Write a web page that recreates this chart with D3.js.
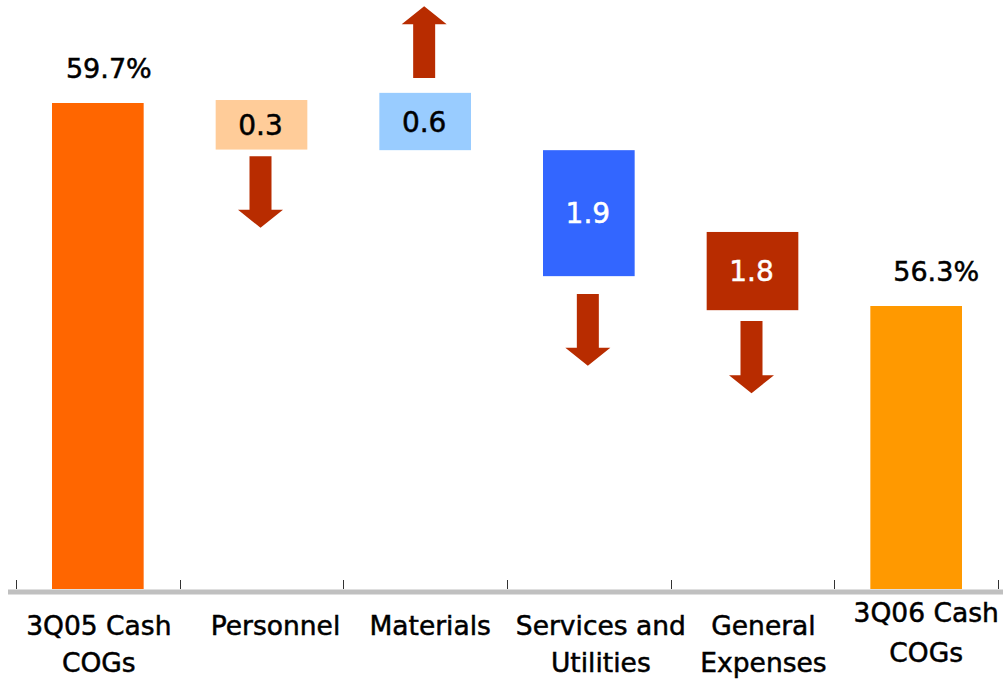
<!DOCTYPE html>
<html>
<head>
<meta charset="utf-8">
<script src="https://cdn.jsdelivr.net/npm/d3@7"></script>
<style>
  body { margin: 0; background: #fff; }
  text { font-family: "DejaVu Sans", Verdana, sans-serif; }
</style>
</head>
<body>
<div id="chart"></div>
<script>
// categories (label lines)
var categories = ["3Q05 Cash COGs", "Personnel", "Materials", "Services and Utilities", "General Expenses", "3Q06 Cash COGs"];
var labelLines = [["3Q05 Cash", "COGs"], ["Personnel"], ["Materials"], ["Services and", "Utilities"], ["General", "Expenses"], ["3Q06 Cash", "COGs"]];

// totals (start / end)
var totals = [59.7, 56.3];
var totalLabels = ["59.7%", "56.3%"];

// changes
var changes = [0.3, 0.6, 1.9, 1.8];
// schematic box extents, in % units
var boxTop = [59.75, 59.87, 58.91, 57.54];
var boxBottom = [58.92, 58.91, 56.80, 56.23];
// arrow tail / tip, in % units
var arrowFrom = [58.81, 60.12, 56.50, 56.05];
var arrowTo = [57.61, 61.32, 55.30, 54.84];

var changeColors = ["#FFCC99", "#99CCFF", "#3366FF", "#B82C00"];
var changeText = ["#000", "#000", "#fff", "#fff"];
var totalColors = ["#FF6600", "#FF9900"];
var arrowColor = "#B82C00";

var W = 1003, H = 680;
var baseY = 589;

var svg = d3.select("#chart").append("svg")
    .attr("width", W)
    .attr("height", H);

var x = d3.scaleBand()
    .domain(categories)
    .range([16, 998])
    .paddingInner(0.44)
    .paddingOuter(0.22);

var y = d3.scaleLinear()
    .domain([56.3, 59.7])
    .range([306, 103]);

var step = x.step();
var bw = x.bandwidth();

// totals bars
var totalCats = [categories[0], categories[5]];
svg.selectAll(".total")
    .data(totals)
    .enter().append("rect")
    .attr("class", "total")
    .attr("x", function(d, i){ return x(totalCats[i]); })
    .attr("y", function(d){ return y(d); })
    .attr("width", bw)
    .attr("height", function(d){ return baseY - y(d); })
    .style("fill", function(d, i){ return totalColors[i]; });

var totalOffset = [11, 20];
svg.selectAll(".total-label")
    .data(totals)
    .enter().append("text")
    .attr("class", "total-label")
    .attr("x", function(d, i){ return x(totalCats[i]) + bw / 2 + totalOffset[i]; })
    .attr("y", function(d){ return y(d) - 25; })
    .attr("text-anchor", "middle")
    .style("font-size", "27px")
    .style("fill", "#000")
    .style("stroke", "#000")
    .style("stroke-width", 0.5)
    .text(function(d, i){ return totalLabels[i]; });

// change boxes
var changeCats = categories.slice(1, 5);
svg.selectAll(".box")
    .data(changes)
    .enter().append("rect")
    .attr("class", "box")
    .attr("x", function(d, i){ return x(changeCats[i]); })
    .attr("y", function(d, i){ return y(boxTop[i]); })
    .attr("width", bw)
    .attr("height", function(d, i){ return y(boxBottom[i]) - y(boxTop[i]); })
    .style("fill", function(d, i){ return changeColors[i]; });

svg.selectAll(".box-label")
    .data(changes)
    .enter().append("text")
    .attr("class", "box-label")
    .attr("x", function(d, i){ return x(changeCats[i]) + bw / 2 - 1; })
    .attr("y", function(d, i){ return (y(boxTop[i]) + y(boxBottom[i])) / 2 + 10; })
    .attr("text-anchor", "middle")
    .style("font-size", "28px")
    .style("fill", function(d, i){ return changeText[i]; })
    .style("stroke", function(d, i){ return changeText[i]; })
    .style("stroke-width", 0.5)
    .text(function(d){ return d3.format(".1f")(d); });

// arrows
var shaftW = 22, headW = 45, headL = 18;
function arrowPath(cx, y0, y1) {
    var dir = y1 > y0 ? 1 : -1;
    var hb = y1 - dir * headL;
    return "M" + (cx - shaftW / 2) + "," + y0 +
        "L" + (cx + shaftW / 2) + "," + y0 +
        "L" + (cx + shaftW / 2) + "," + hb +
        "L" + (cx + headW / 2) + "," + hb +
        "L" + cx + "," + y1 +
        "L" + (cx - headW / 2) + "," + hb +
        "L" + (cx - shaftW / 2) + "," + hb + "Z";
}

svg.selectAll(".arrow")
    .data(changes)
    .enter().append("path")
    .attr("class", "arrow")
    .attr("d", function(d, i){
        return arrowPath(x(changeCats[i]) + bw / 2 - 1, y(arrowFrom[i]), y(arrowTo[i]));
    })
    .style("fill", arrowColor);

// axis
svg.append("line")
    .attr("x1", 8)
    .attr("x2", W)
    .attr("y1", baseY + 3)
    .attr("y2", baseY + 3)
    .style("stroke", "#c0c0c0")
    .style("stroke-width", 5);

var tickPos = categories.map(function(d){ return x(d) - step * x.paddingInner() / 2; });
tickPos.push(x(categories[5]) + bw + step * x.paddingInner() / 2);

svg.selectAll(".tick")
    .data(tickPos)
    .enter().append("line")
    .attr("class", "tick")
    .attr("x1", function(d){ return Math.round(d) + 0.5; })
    .attr("x2", function(d){ return Math.round(d) + 0.5; })
    .attr("y1", baseY - 9)
    .attr("y2", baseY)
    .style("stroke", "#333")
    .style("stroke-width", 1);

// category labels
var labelBase = [635, 635, 635, 635, 635, 622];
var labelGap = [37, 37, 37, 37, 37, 40];
var labelOffset = [1, 14, 5, 12, 11, 10];
var lbl = svg.selectAll(".cat-label")
    .data(categories)
    .enter().append("text")
    .attr("class", "cat-label")
    .attr("text-anchor", "middle")
    .style("font-size", "26.5px")
    .style("fill", "#000")
    .style("stroke", "#000")
    .style("stroke-width", 0.5);

lbl.selectAll("tspan")
    .data(function(d, i){
        return labelLines[i].map(function(t, j){ return { t: t, j: j, i: i }; });
    })
    .enter().append("tspan")
    .attr("x", function(d){ return x(categories[d.i]) + bw / 2 + labelOffset[d.i]; })
    .attr("y", function(d){ return labelBase[d.i] + d.j * labelGap[d.i]; })
    .text(function(d){ return d.t; });
</script>
</body>
</html>
